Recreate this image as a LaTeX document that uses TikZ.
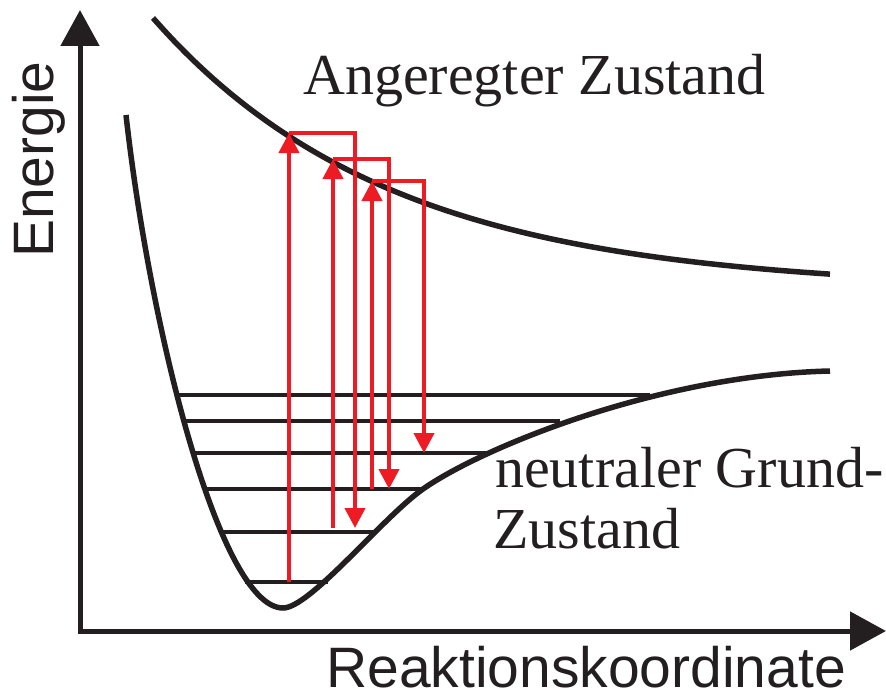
\documentclass[tikz,border=0pt]{standalone}
\usepackage{fontspec}
\setmainfont{Liberation Serif}
\setsansfont{Liberation Sans}
\usetikzlibrary{arrows.meta}
\definecolor{ink}{HTML}{231F20}
\definecolor{rd}{HTML}{ED1C24}
\begin{document}
\begin{tikzpicture}[x=1pt,y=-1pt,
  curve/.style={draw=ink,line width=5.5pt},
  level/.style={draw=ink,line width=4pt},
  axis/.style={draw=ink,line width=5pt,-{Triangle[width=38pt,length=36pt]}},
  trans/.style={draw=rd,line width=4pt,-{Triangle[width=20pt,length=20pt]}},
  serif/.style={font=\fontsize{58}{61}\selectfont,inner sep=0pt,text=ink},
  sans/.style={font=\sffamily\fontsize{57}{60}\selectfont,inner sep=0pt,text=ink}]
\useasboundingbox (0,0) rectangle (886,693);
% axes
\coordinate (ybot) at (80,633.5);
\coordinate (ytip) at (80,10);
\coordinate (xleft) at (77.5,631);
\coordinate (xtip) at (886,631);
\draw[axis] (ybot) -- (ytip);
\draw[axis] (xleft) -- (xtip);
% excited state curve
\draw[curve] plot[domain=153:830,samples=150] (\x,{290-272*exp(-0.0042*(\x-153))});
% ground state curve
\coordinate (g0) at (126,115);
\coordinate (gmin) at (283,608);
\coordinate (gmid) at (423,489);
\coordinate (gend) at (830,371);
\draw[curve] (g0) .. controls (150,330) and (220,608) .. (gmin)
  .. controls (310,608) and (383,517) .. (gmid)
  .. controls (483,447) and (660,375) .. (gend);
% vibrational levels
\coordinate (l1a) at (177,395); \coordinate (l1b) at (650,395);
\coordinate (l2a) at (185,421); \coordinate (l2b) at (560,421);
\coordinate (l3a) at (194,453); \coordinate (l3b) at (487,453);
\coordinate (l4a) at (204,489); \coordinate (l4b) at (423,489);
\coordinate (l5a) at (222,532); \coordinate (l5b) at (375,532);
\coordinate (l6a) at (245,582); \coordinate (l6b) at (328,582);
\foreach \i in {1,...,6} \draw[level] (l\i a) -- (l\i b);
% transitions
\coordinate (u1b) at (289,582); \coordinate (u1t) at (289,133);
\coordinate (d1c) at (355,133); \coordinate (d1e) at (355,528);
\coordinate (u2b) at (333,528); \coordinate (u2t) at (333,159);
\coordinate (d2c) at (389,159); \coordinate (d2e) at (389,489);
\coordinate (u3b) at (372,489); \coordinate (u3t) at (372,181);
\coordinate (d3c) at (424,181); \coordinate (d3e) at (424,453);
\draw[trans] (u1b) -- (u1t);
\draw[trans] (u1t) -- (d1c) -- (d1e);
\draw[trans] (u2b) -- (u2t);
\draw[trans] (u2t) -- (d2c) -- (d2e);
\draw[trans] (u3b) -- (u3t);
\draw[trans] (u3t) -- (d3c) -- (d3e);
% labels
\node[serif,anchor=base west] (exc) at (303,95) {Angeregter Zustand};
\node[serif,anchor=base west] (gr1) at (495,487) {neutraler Grund-};
\node[serif,anchor=base west] (gr2) at (493,548) {Zustand};
\node[sans,anchor=base west,text depth=0pt] (xl) at (326,687) {Reaktionskoordinate};
\node[sans,anchor=base west,rotate=90] (yl) at (53,258) {Energie};
\end{tikzpicture}
\end{document}
